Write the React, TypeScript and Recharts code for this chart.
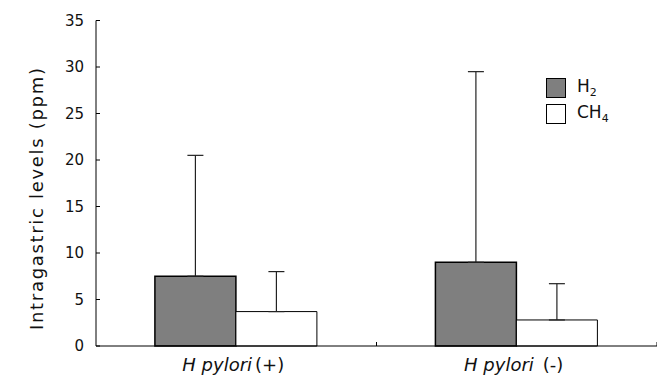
import React from 'react';
import { BarChart, Bar, XAxis, YAxis, ErrorBar, Legend } from 'recharts';

const categories = ['H pylori (+)', 'H pylori (-)'];
const h2Values = [7.5, 9.0];
const h2UpperErr = [13.0, 20.5];
const ch4Values = [3.7, 2.8];
const ch4UpperErr = [4.3, 3.9];
const yTicks = [0, 5, 10, 15, 20, 25, 30, 35];
const seriesNames = { h2: 'H2', ch4: 'CH4' };

const data = categories.map((c, i) => ({
  name: c,
  h2: h2Values[i],
  h2Err: [0, h2UpperErr[i]],
  ch4: ch4Values[i],
  ch4Err: [0, ch4UpperErr[i]],
}));

const FONT = '"DejaVu Sans", Verdana, sans-serif';

const XTick = (props: any) => {
  const { x, y, payload, index } = props;
  const label = String(payload.value);
  const cut = label.lastIndexOf(' ');
  const italic = label.slice(0, cut);
  const rest = label.slice(cut + 1);
  const boundary = x + (payload.offset ?? 0);
  return (
    <g>
      <line x1={boundary} x2={boundary} y1={y} y2={y - 4} stroke="#000" strokeWidth={1} />
      <text x={x - 3} y={y + 25} textAnchor="middle" fontSize={18} fill="#111" fontFamily={FONT}>
        <tspan fontStyle="italic">{italic}</tspan>
        <tspan dx={index === 0 ? 3 : 9}>{rest}</tspan>
      </text>
    </g>
  );
};

const YLabel = (props: any) => {
  const cx = 35;
  const cy = 191;
  return (
    <text
      x={cx}
      y={cy}
      transform={`rotate(-90 ${cx} ${cy})`}
      textAnchor="middle"
      fontSize={18}
      fill="#111"
      fontFamily={FONT}
      textLength={262}
      lengthAdjust="spacing"
    >
      Intragastric levels (ppm)
    </text>
  );
};

const LegendContent = () => (
  <div style={{ fontFamily: FONT, fontSize: 17, color: '#111' }}>
    <div style={{ display: 'flex', alignItems: 'center', height: 26 }}>
      <div style={{ width: 18, height: 18, background: '#7f7f7f', border: '1px solid #000' }} />
      <span style={{ marginLeft: 11 }}>
        H<sub style={{ fontSize: 11 }}>2</sub>
      </span>
    </div>
    <div style={{ display: 'flex', alignItems: 'center', height: 26 }}>
      <div style={{ width: 18, height: 18, background: '#fff', border: '1px solid #000' }} />
      <span style={{ marginLeft: 11 }}>
        CH<sub style={{ fontSize: 11 }}>4</sub>
      </span>
    </div>
  </div>
);

export default function App() {
  return (
    <BarChart
      width={657}
      height={370}
      data={data}
      margin={{ top: 12.5, right: 8, left: 0, bottom: 0 }}
      barCategoryGap="21%"
      barGap={0}
      style={{ fontFamily: FONT }}
    >
      <XAxis
        dataKey="name"
        height={32}
        tickSize={0}
        tickMargin={0}
        tick={<XTick />}
        axisLine={{ stroke: '#000', strokeWidth: 1 }}
        interval={0}
      />
      <YAxis
        width={88}
        domain={[0, 35]}
        ticks={yTicks}
        tickSize={-4}
        tickMargin={16}
        axisLine={{ stroke: '#000', strokeWidth: 1 }}
        tickLine={{ stroke: '#000', strokeWidth: 1 }}
        tick={{ fontSize: 15, fill: '#111', fontFamily: FONT }}
        interval={0}
        label={<YLabel />}
      />
      <Legend
        layout="vertical"
        align="center"
        verticalAlign="middle"
        content={<LegendContent />}
        wrapperStyle={{ position: 'absolute', left: 538, top: 67, width: 100 }}
      />
      <Bar dataKey="h2" name={seriesNames.h2} fill="#7f7f7f" stroke="#000" strokeWidth={1.5} isAnimationActive={false}>
        <ErrorBar dataKey="h2Err" width={8} stroke="#222" strokeWidth={1.2} direction="y" />
      </Bar>
      <Bar dataKey="ch4" name={seriesNames.ch4} fill="#fff" stroke="#000" strokeWidth={1} isAnimationActive={false}>
        <ErrorBar dataKey="ch4Err" width={8} stroke="#222" strokeWidth={1.2} direction="y" />
      </Bar>
    </BarChart>
  );
}
